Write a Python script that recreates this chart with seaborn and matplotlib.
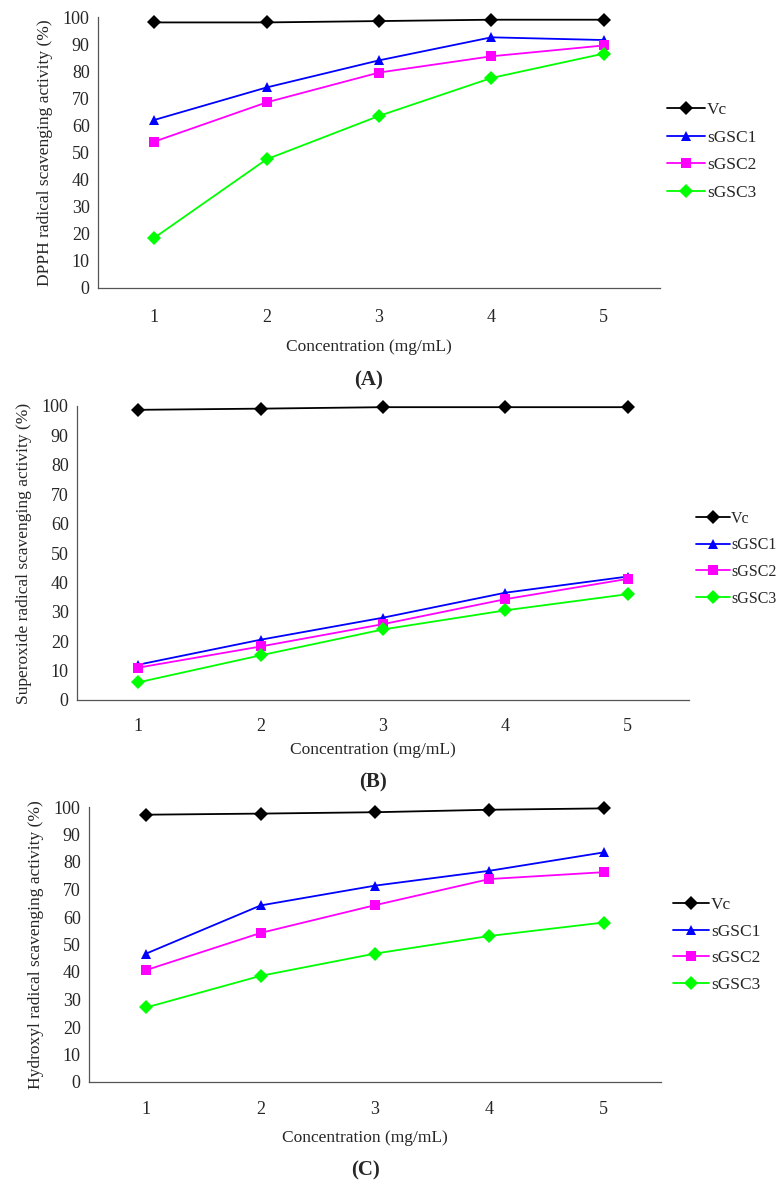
import numpy as np
import pandas as pd
import matplotlib
matplotlib.use("Agg")
import matplotlib.pyplot as plt
import seaborn as sns
from matplotlib.ticker import FixedLocator, NullFormatter, FixedFormatter
from matplotlib.lines import Line2D

sns.set_theme(style="white")
plt.rcParams['font.family'] = ['Liberation Serif', 'DejaVu Serif']

concentration = [1, 2, 3, 4, 5]
series_names = ["Vc", "sGSC1", "sGSC2", "sGSC3"]

dpph_vc = [98.0, 98.0, 98.5, 99.0, 99.0]
dpph_s1 = [62.0, 74.0, 84.0, 92.5, 91.5]
dpph_s2 = [54.0, 68.5, 79.5, 85.5, 89.5]
dpph_s3 = [18.5, 47.5, 63.5, 77.5, 86.5]

sup_vc = [98.7, 99.1, 99.6, 99.6, 99.6]
sup_s1 = [12.0, 20.5, 28.0, 36.5, 42.0]
sup_s2 = [11.0, 18.2, 25.8, 34.3, 41.2]
sup_s3 = [6.0, 15.2, 24.0, 30.5, 36.0]

hyd_vc = [97.2, 97.6, 98.1, 99.0, 99.5]
hyd_s1 = [46.7, 64.2, 71.4, 76.8, 83.5]
hyd_s2 = [40.7, 54.2, 64.3, 73.8, 76.3]
hyd_s3 = [27.1, 38.6, 46.7, 53.1, 58.0]

y_ticks = [0, 10, 20, 30, 40, 50, 60, 70, 80, 90, 100]
x_label = "Concentration (mg/mL)"
y_labels = ["DPPH radical scavenging activity (%)",
            "Superoxide radical scavenging activity (%)",
            "Hydroxyl radical scavenging activity (%)"]
panel_tags = ["A", "B", "C"]

colors = {"Vc": "#000000", "sGSC1": "#0000FF", "sGSC2": "#FF00FF", "sGSC3": "#00FF00"}
markers = {"Vc": "D", "sGSC1": "^", "sGSC2": "s", "sGSC3": "D"}

def make_df(vals):
    rows = []
    for name, v in zip(series_names, vals):
        for c, y in zip(concentration, v):
            rows.append({"conc": c, "value": y, "series": name})
    return pd.DataFrame(rows)

panels = [make_df([dpph_vc, dpph_s1, dpph_s2, dpph_s3]),
          make_df([sup_vc, sup_s1, sup_s2, sup_s3]),
          make_df([hyd_vc, hyd_s1, hyd_s2, hyd_s3])]

W, H = 784, 1185
fig = plt.figure(figsize=(W/100, H/100), dpi=100)

layouts = [
    dict(l=98, r=660, t=17, b=288, tly=315, xly=347, tagy=380, lgx=667, lgy=108, lgs=29, lfs=12.5, hl=2.2),
    dict(l=77, r=689, t=406, b=700, tly=724, xly=750, tagy=782, lgx=696, lgy=519, lgs=26.5, lfs=11.5, hl=2.1),
    dict(l=89, r=661, t=807, b=1082, tly=1107, xly=1138, tagy=1170, lgx=673, lgy=903, lgs=28, lfs=12.5, hl=2.1),
]

for df, L, ylab, tag in zip(panels, layouts, y_labels, panel_tags):
    ax = fig.add_axes([L["l"]/W, 1 - L["b"]/H, (L["r"]-L["l"])/W, (L["b"]-L["t"])/H])
    sns.lineplot(data=df, x="conc", y="value", hue="series", style="series",
                 palette=colors, markers=markers, dashes=False, ax=ax,
                 linewidth=1.3, markersize=7, markeredgewidth=0, legend=False)
    for ln in ax.lines:
        ln.set_clip_on(False)
    ax.set_xlim(0.5, 5.5)
    ax.set_ylim(0, 100)
    for s in ["top", "right"]:
        ax.spines[s].set_visible(False)
    for s in ["left", "bottom"]:
        ax.spines[s].set_color("#555555")
        ax.spines[s].set_linewidth(0.9)
    ax.xaxis.set_major_locator(FixedLocator([0.5, 1.5, 2.5, 3.5, 4.5, 5.5]))
    ax.xaxis.set_major_formatter(NullFormatter())
    ax.xaxis.set_minor_locator(FixedLocator(concentration))
    ax.xaxis.set_minor_formatter(FixedFormatter([str(c) for c in concentration]))
    pad_px = L["tly"] - L["b"] - 6
    ax.tick_params(axis="x", which="major", direction="out", length=4, width=0.8, color="#555555")
    ax.tick_params(axis="x", which="minor", length=0, pad=pad_px*0.72, labelsize=13)
    ax.set_yticks(y_ticks)
    ax.tick_params(axis="y", direction="out", length=4, width=0.8, color="#555555", labelsize=13, pad=2)
    ax.set_xlabel("")
    ax.set_ylabel(ylab, fontsize=12.5, labelpad=7)
    fig.text(((L["l"]+L["r"])/2 - 10)/W, 1 - L["xly"]/H, x_label, ha="center", va="center", fontsize=12.5)
    fig.text(((L["l"]+L["r"])/2 - 10)/W, 1 - L["tagy"]/H, "(" + tag + ")", ha="center", va="center",
             fontsize=15, fontweight="bold")
    handles = [Line2D([0], [0], color=colors[n], marker=markers[n], markersize=7,
                      markeredgewidth=0, linewidth=1.3) for n in series_names]
    fs_px = L["lfs"] * 100 / 72
    ax.legend(handles, series_names, loc="center left",
              bbox_to_anchor=(L["lgx"]/W, 1 - (L["lgy"] + 1.5*L["lgs"])/H),
              bbox_transform=fig.transFigure, frameon=False, fontsize=L["lfs"],
              handlelength=L["hl"], handletextpad=0.1,
              labelspacing=(L["lgs"] - fs_px)/fs_px, borderaxespad=0, borderpad=0)

fig.savefig("out.png", dpi=100, facecolor="white")
